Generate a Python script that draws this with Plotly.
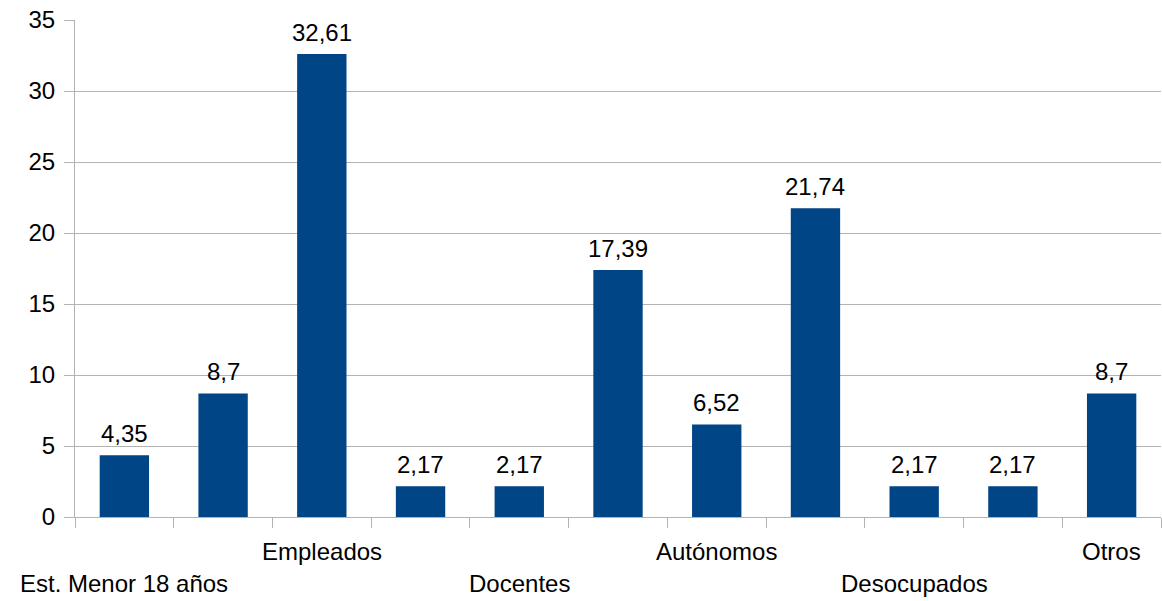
import plotly.graph_objects as go

categories = ["Est. Menor 18 años", "", "Empleados", "", "Docentes", "",
              "Autónomos", "", "Desocupados", "", "Otros"]
values = [4.35, 8.7, 32.61, 2.17, 2.17, 17.39, 6.52, 21.74, 2.17, 2.17, 8.7]
y_ticks = [0, 5, 10, 15, 20, 25, 30, 35]

FONT = "Liberation Sans, Arial, sans-serif"
x = list(range(len(values)))
texts = [str(v).replace(".", ",") for v in values]

fig = go.Figure()
fig.add_trace(go.Bar(
    x=x, y=values,
    marker=dict(color="#004586", line=dict(width=0)),
    width=0.5, hoverinfo="skip",
))

annotations = []
# value labels above bars
for xi, v, t in zip(x, values, texts):
    annotations.append(dict(
        x=xi, y=v, xref="x", yref="y", text=t, showarrow=False,
        yanchor="bottom", xanchor="center", yshift=6,
        font=dict(family=FONT, size=24, color="#000000"),
    ))
# staggered category labels
for i, lab in enumerate(categories):
    if not lab:
        continue
    row = (i // 2) % 2  # alternate rows: 0 lower, 1 upper
    shift = -66 if row == 0 else -34
    annotations.append(dict(
        x=i, y=0, xref="x", yref="paper", text=lab, showarrow=False,
        yanchor="middle", xanchor="center", yshift=shift,
        font=dict(family=FONT, size=24, color="#000000"),
    ))

fig.update_layout(
    width=1162, height=601,
    margin=dict(l=75, r=1, t=20, b=84),
    paper_bgcolor="white", plot_bgcolor="white",
    showlegend=False,
    annotations=annotations,
    font=dict(family=FONT, size=24, color="#000000"),
)
fig.update_xaxes(
    range=[-0.5, len(values) - 0.5],
    tickmode="array", tickvals=[i - 0.5 for i in range(len(values) + 1)],
    showticklabels=False, ticks="outside", ticklen=10, tickcolor="#b3b3b3",
    showgrid=False, showline=True, linecolor="#b3b3b3", linewidth=1, zeroline=False,
)
fig.update_yaxes(
    range=[0, 35], tickmode="array", tickvals=y_ticks,
    ticks="outside", ticklen=10, tickcolor="#b3b3b3", ticklabelstandoff=4,
    showgrid=True, gridcolor="#b3b3b3", gridwidth=1,
    showline=True, linecolor="#b3b3b3", linewidth=1, zeroline=False,
    tickfont=dict(family=FONT, size=24, color="#000000"),
)

fig.write_html("out.html", config={"displayModeBar": False},
               post_script="document.body.style.margin='0px';")
